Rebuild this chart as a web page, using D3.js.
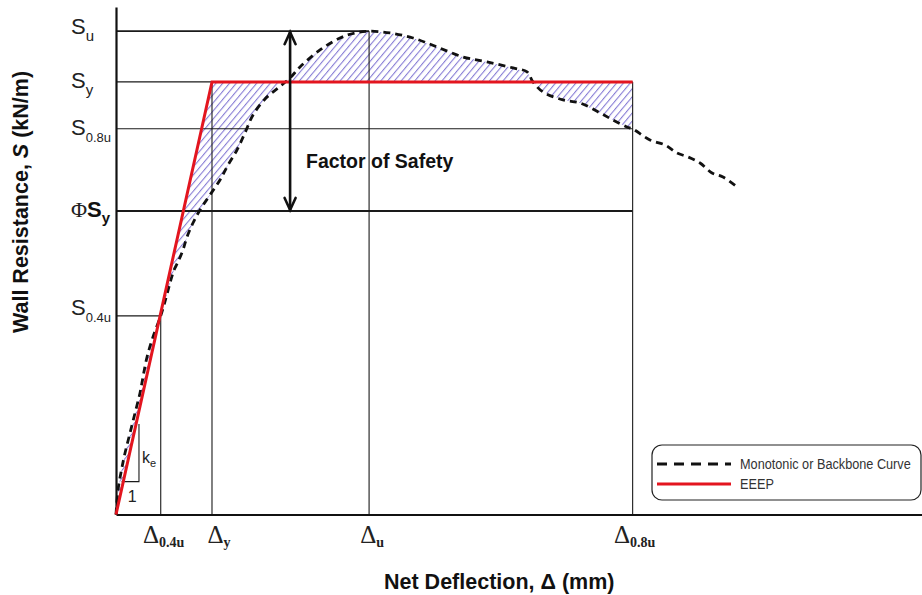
<!DOCTYPE html>
<html>
<head>
<meta charset="utf-8">
<script src="https://cdn.jsdelivr.net/npm/d3@7/dist/d3.min.js"></script>
<style>
  html, body { margin: 0; padding: 0; background: #fff; }
  svg { display: block; }
</style>
</head>
<body>
<svg id="chart" width="922" height="595"></svg>
<script>
// ---------- data ----------
// Resistance levels (arbitrary units, Su = 100)
const sLevelKeys   = ["Su", "Sy", "S0.8u", "PhiSy", "S0.4u"];
const sLevelValues = [100, 89.5, 79.8, 62.8, 41.1];
// Deflection levels (arbitrary units)
const dLevelKeys   = ["D0.4u", "Dy", "Du", "D0.8u"];
const dLevelValues = [5.55, 11.91, 31.4, 64.1];

// Monotonic / backbone curve
const curveDeflection = [0, 0.25, 0.68, 1.12, 1.74, 2.36, 2.98, 3.35, 3.85, 4.59, 5.58, 6.20, 6.70, 7.20, 7.69, 8.31, 8.81, 9.55, 10.42, 11.66, 12.90, 13.90, 15.01, 16.0, 17.0, 18.49, 20.10, 21.59, 22.83, 25.31, 27.79, 29.65, 31.4, 34.0, 36.85, 39.83, 43.05, 46.03, 49.26, 51.0, 51.74, 52.98, 55.46, 57.57, 60.05, 61.66, 63.40, 64.1, 66.25, 68.11, 69.6, 70.97, 72.46, 73.95, 75.31, 77.05];
const curveResistance = [0, 5.07, 9.21, 12.72, 16.86, 21.0, 25.14, 28.45, 32.59, 36.73, 41.28, 44.80, 47.90, 50.59, 52.24, 54.73, 57.42, 60.31, 63.0, 66.11, 69.21, 72.32, 75.42, 78.94, 82.66, 85.97, 88.25, 90.32, 92.59, 96.11, 98.59, 99.63, 100, 99.63, 98.59, 96.73, 94.66, 93.63, 92.39, 91.56, 89.49, 87.42, 85.77, 85.15, 83.08, 81.63, 80.18, 79.77, 77.49, 76.46, 74.8, 73.97, 72.73, 70.66, 69.83, 67.77];

// EEEP bilinear curve
const eeepDeflection = [0, 11.91, 64.1];
const eeepResistance = [0, 89.5, 89.5];

// Factor of safety arrow spans Su -> PhiSy at this deflection
const fosDeflection = 21.6;

// Stiffness triangle (ke / 1): deflection extent and resistance extent
const keTriangleD = [0.7, 2.85];
const keTriangleS = [6.8, 18.7];

const legendLabels = ["Monotonic or Backbone Curve", "EEEP"];

// ---------- scales ----------
const svg = d3.select("#chart");
const x = d3.scaleLinear().domain([0, 100]).range([116, 922]);
const y = d3.scaleLinear().domain([0, 105]).range([514.5, 7]);

svg.append("rect").attr("width", 922).attr("height", 595).attr("fill", "#fff");

// hatch pattern
const defs = svg.append("defs");
const pat = defs.append("pattern")
  .attr("id", "hatch").attr("patternUnits", "userSpaceOnUse")
  .attr("width", 5.2).attr("height", 12)
  .attr("patternTransform", "rotate(40)");
pat.append("line").attr("x1", 0.6).attr("y1", 0).attr("x2", 0.6).attr("y2", 12)
  .attr("stroke", "#6e62cc").attr("stroke-width", 0.9);

const sv = k => sLevelValues[sLevelKeys.indexOf(k)];
const dv = k => dLevelValues[dLevelKeys.indexOf(k)];

const curvePts = curveDeflection.map((d, i) => [d, curveResistance[i]]);
const eeepPts = eeepDeflection.map((d, i) => [d, eeepResistance[i]]);

// hatched area between EEEP and curve up to D0.8u
const dEnd = dv("D0.8u");
const curveUpTo = curvePts.filter(p => p[0] <= dEnd);
const hatchPoly = eeepPts.concat(curveUpTo.slice().reverse());
svg.append("path")
  .attr("d", d3.line().x(p => x(p[0])).y(p => y(p[1]))(hatchPoly) + "Z")
  .attr("fill", "url(#hatch)").attr("stroke", "none");

// reference lines
const g = svg.append("g").attr("stroke", "#1a1a1a").attr("fill", "none");
const hEnds = {"Su": "Du", "Sy": "D0.8u", "S0.8u": "D0.8u", "PhiSy": "D0.8u", "S0.4u": "D0.4u"};
const hWidth = {"Su": 1.8, "Sy": 1.1, "S0.8u": 1.1, "PhiSy": 1.9, "S0.4u": 1.1};
sLevelKeys.forEach(k => {
  g.append("line")
    .attr("x1", x(0)).attr("x2", x(dv(hEnds[k])))
    .attr("y1", y(sv(k))).attr("y2", y(sv(k)))
    .attr("stroke-width", hWidth[k]);
});
const vTops = {"D0.4u": "S0.4u", "Dy": "Sy", "Du": "Su", "D0.8u": "Sy"};
dLevelKeys.forEach(k => {
  g.append("line")
    .attr("x1", x(dv(k))).attr("x2", x(dv(k)))
    .attr("y1", y(sv(vTops[k]))).attr("y2", y(0))
    .attr("stroke-width", 1.1);
});

// ke triangle
const [t0, t1] = keTriangleD, [ts0, ts1] = keTriangleS;
g.append("polyline")
  .attr("points", [[x(t0), y(ts0)], [x(t1), y(ts0)], [x(t1), y(ts1)]].map(p => p.join(",")).join(" "))
  .attr("stroke-width", 1.1);

// axes
const xAxis = d3.axisBottom(x).tickValues([]).tickSizeOuter(0);
const yAxis = d3.axisLeft(y).tickValues([]).tickSizeOuter(0);
svg.append("g").attr("transform", `translate(0,${y(0)})`).call(xAxis)
  .select(".domain").attr("stroke", "#111").attr("stroke-width", 2.2);
svg.append("g").attr("transform", `translate(${x(0)},0)`).call(yAxis)
  .select(".domain").attr("stroke", "#111").attr("stroke-width", 2.2);

// backbone curve
svg.append("path")
  .attr("d", d3.line().x(p => x(p[0])).y(p => y(p[1])).curve(d3.curveCatmullRom.alpha(0.5))(curvePts))
  .attr("fill", "none").attr("stroke", "#111").attr("stroke-width", 2.8)
  .attr("stroke-dasharray", "7,5");

// EEEP
svg.append("path")
  .attr("d", d3.line().x(p => x(p[0])).y(p => y(p[1]))(eeepPts))
  .attr("fill", "none").attr("stroke", "#e3151f").attr("stroke-width", 3)
  .attr("stroke-linejoin", "miter");

// Factor of safety arrow
const ax = x(fosDeflection), aTop = y(sv("Su")), aBot = y(sv("PhiSy"));
const ag = svg.append("g").attr("stroke", "#111").attr("fill", "none")
  .attr("stroke-width", 2.6).attr("stroke-linecap", "round").attr("stroke-linejoin", "miter");
ag.append("line").attr("x1", ax).attr("x2", ax).attr("y1", aTop + 1).attr("y2", aBot - 1);
ag.append("polyline").attr("points", `${ax - 5.5},${aTop + 13} ${ax},${aTop + 1} ${ax + 5.5},${aTop + 13}`);
ag.append("polyline").attr("points", `${ax - 5.5},${aBot - 13} ${ax},${aBot - 1} ${ax + 5.5},${aBot - 13}`);

const sans = "Liberation Sans, Arial, sans-serif";
const serif = "Liberation Serif, Times New Roman, serif";

svg.append("text").attr("x", 306).attr("y", 168)
  .attr("font-family", sans).attr("font-weight", "bold")
  .attr("font-size", 19.5).attr("fill", "#111").text("Factor of Safety");

// ke / 1 labels
svg.append("text").attr("x", x(t1) + 3).attr("y", y(ts0) - 19)
  .attr("font-family", sans).attr("font-size", 16).attr("fill", "#222")
  .text("k").append("tspan").attr("dy", 4).attr("font-size", 11).text("e");
svg.append("text").attr("x", (x(t0) + x(t1)) / 2 + 2).attr("y", y(ts0) + 20)
  .attr("text-anchor", "middle")
  .attr("font-family", sans).attr("font-size", 16).attr("fill", "#222")
  .text("1");

// y level labels
const sLabelDy = {"Su": 3, "Sy": 6, "S0.8u": 6, "PhiSy": 6, "S0.4u": -1};
const sSubs = {"Su": "u", "Sy": "y", "S0.8u": "0.8u", "PhiSy": "y", "S0.4u": "0.4u"};
sLevelKeys.forEach(k => {
  const t = svg.append("text").attr("x", 71).attr("y", y(sv(k)) + sLabelDy[k])
    .attr("font-family", sans).attr("font-size", 22).attr("fill", "#222");
  if (k === "PhiSy") {
    t.append("tspan").attr("font-family", serif).text("\u03A6");
    t.append("tspan").attr("font-weight", "bold").attr("fill", "#111").text("S");
    t.append("tspan").attr("font-weight", "bold").attr("fill", "#111").attr("font-size", 15).attr("dy", 6).text("y");
  } else {
    t.append("tspan").text("S");
    t.append("tspan").attr("font-size", k.length > 2 ? 13 : 15).attr("dy", 7).text(sSubs[k]);
  }
});

// x level labels
const dSubs = {"D0.4u": "0.4u", "Dy": "y", "Du": "u", "D0.8u": "0.8u"};
const dLabelDx = {"D0.4u": 3, "Dy": 7, "Du": 3, "D0.8u": 2};
dLevelKeys.forEach(k => {
  const t = svg.append("text").attr("x", x(dv(k)) + dLabelDx[k]).attr("y", 543)
    .attr("text-anchor", "middle").attr("font-family", serif).attr("font-size", 25).attr("fill", "#222");
  t.append("tspan").text("\u0394");
  t.append("tspan").attr("font-size", 14).attr("font-weight", "bold").attr("dy", 4).text(dSubs[k]);
});

// axis titles
svg.append("text").attr("x", 384).attr("y", 589)
  .attr("font-family", sans).attr("font-weight", "bold").attr("font-size", 21.5).attr("fill", "#111")
  .text("Net Deflection, \u0394 (mm)");
const yt = svg.append("text").attr("transform", "translate(28,333) rotate(-90)")
  .attr("font-family", sans).attr("font-weight", "bold").attr("font-size", 21.5).attr("fill", "#111");
yt.append("tspan").text("Wall Resistance, ");
yt.append("tspan").attr("font-style", "italic").text("S");
yt.append("tspan").text(" (kN/m)");

// legend
const lg = svg.append("g");
lg.append("rect").attr("x", 652).attr("y", 445).attr("width", 269).attr("height", 55)
  .attr("rx", 10).attr("fill", "#fff").attr("stroke", "#222").attr("stroke-width", 1.2);
lg.append("line").attr("x1", 657).attr("x2", 731).attr("y1", 464).attr("y2", 464)
  .attr("stroke", "#111").attr("stroke-width", 3).attr("stroke-dasharray", "10,7");
lg.append("line").attr("x1", 657).attr("x2", 731).attr("y1", 484).attr("y2", 484)
  .attr("stroke", "#e3151f").attr("stroke-width", 3);
legendLabels.forEach((s, i) => {
  lg.append("g").attr("transform", `translate(740,${469 + i * 20}) scale(0.82,1)`)
    .append("text").attr("x", 0).attr("y", 0)
    .attr("font-family", sans)
    .attr("font-size", 15.5).attr("fill", "#333").text(s);
});
</script>
</body>
</html>
